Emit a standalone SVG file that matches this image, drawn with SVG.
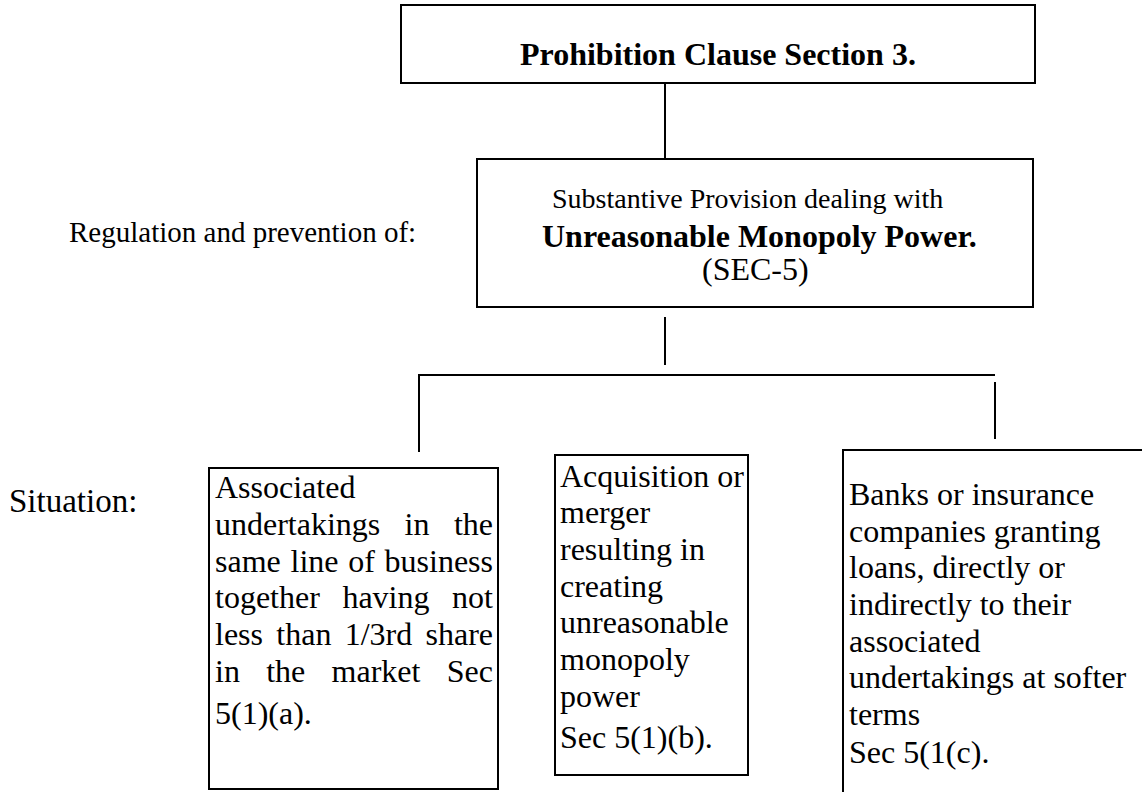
<svg xmlns="http://www.w3.org/2000/svg" width="1142" height="792" viewBox="0 0 1142 792">
<style>
.box{fill:#fff;stroke:#000;stroke-width:2}
.ln{stroke:#000;stroke-width:2;fill:none}
text{font-family:"Liberation Serif","Times New Roman",serif;fill:#000}
.b{font-weight:bold}
.t{font-size:32px}
</style>
<rect width="1142" height="792" fill="#fff"/>
<g id="connectors">
<line class="ln" x1="665" y1="83" x2="665" y2="159"/>
<line class="ln" x1="665" y1="317" x2="665" y2="365"/>
<polyline class="ln" points="419,452 419,375 995,375"/>
<line class="ln" x1="995" y1="382" x2="995" y2="439"/>
</g>
<g id="prohibition">
<rect class="box" x="401" y="5" width="634" height="78"/>
<text class="b t" x="520" y="65">Prohibition Clause Section 3.</text>
</g>
<g id="regulation-label">
<text x="69" y="242" font-size="29">Regulation and prevention of:</text>
</g>
<g id="substantive">
<rect class="box" x="477" y="159" width="556" height="148"/>
<text x="552" y="208" font-size="28">Substantive Provision dealing with</text>
<text class="b t" x="542" y="247">Unreasonable Monopoly Power.</text>
<text class="t" x="702" y="280">(SEC-5)</text>
</g>
<g id="situation-label">
<text x="9" y="512" font-size="33">Situation:</text>
</g>
<g id="sec5a">
<rect class="box" x="209" y="468" width="289" height="321"/>
<g class="t">
<text x="215" y="498">Associated</text>
<text x="215" y="535">undertakings</text><text x="404.6" y="535">in</text><text x="493" y="535" text-anchor="end">the</text>
<text x="215" y="571.5">same</text><text x="290.5" y="571.5">line</text><text x="348.2" y="571.5">of</text><text x="493" y="571.5" text-anchor="end">business</text>
<text x="215" y="608">together</text><text x="342.4" y="608">having</text><text x="493" y="608" text-anchor="end">not</text>
<text x="215" y="645">less</text><text x="276.3" y="645">than</text><text x="344.7" y="645">1/3rd</text><text x="493" y="645" text-anchor="end">share</text>
<text x="215" y="681.5">in</text><text x="266.2" y="681.5">the</text><text x="331.6" y="681.5">market</text><text x="493" y="681.5" text-anchor="end">Sec</text>
<text x="215" y="723.5">5(1)(a).</text>
</g>
</g>
<g id="sec5b">
<rect class="box" x="555" y="455" width="193" height="320"/>
<g class="t">
<text x="560" y="486.7">Acquisition or</text>
<text x="560" y="523.3">merger</text>
<text x="560" y="560">resulting in</text>
<text x="560" y="596.7">creating</text>
<text x="560" y="633.3">unreasonable</text>
<text x="560" y="670">monopoly</text>
<text x="560" y="706.7">power</text>
<text x="560" y="748.3">Sec 5(1)(b).</text>
</g>
</g>
<g id="sec5c">
<rect class="box" x="843" y="450" width="320" height="360"/>
<g class="t">
<text x="849" y="505">Banks or insurance</text>
<text x="849" y="541.7">companies granting</text>
<text x="849" y="578.3">loans, directly or</text>
<text x="849" y="615">indirectly to their</text>
<text x="849" y="651.7">associated</text>
<text x="849" y="688.3">undertakings at softer</text>
<text x="849" y="725">terms</text>
<text x="849" y="763">Sec 5(1(c).</text>
</g>
</g>
</svg>
